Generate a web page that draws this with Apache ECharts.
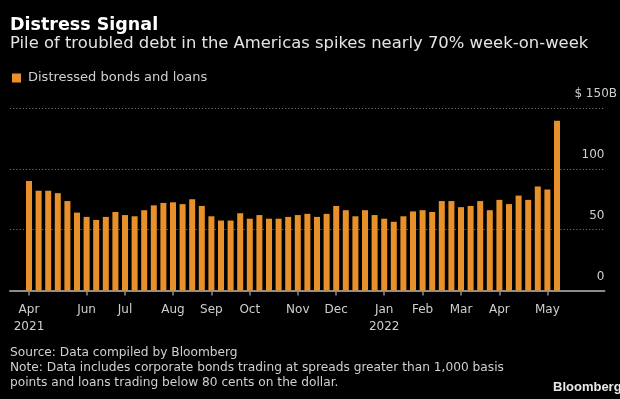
<!DOCTYPE html>
<html>
<head>
<meta charset="utf-8">
<script src="https://cdn.jsdelivr.net/npm/echarts@6/dist/echarts.min.js"></script>
<style>
  html, body { margin: 0; padding: 0; background: #000; }
  #chart { width: 620px; height: 399px; }
</style>
</head>
<body>
<div id="chart"></div>
<script>
// Weekly categories: only the first week of each labelled month carries text
const weekLabels = [
  'Apr\n2021', '', '', '', '', '',
  'Jun', '', '', '',
  'Jul', '', '', '', '',
  'Aug', '', '', '',
  'Sep', '', '', '',
  'Oct', '', '', '', '',
  'Nov', '', '', '',
  'Dec', '', '', '', '',
  'Jan\n2022', '', '', '',
  'Feb', '', '', '',
  'Mar', '', '', '',
  'Apr', '', '', '', '',
  'May', ''
];

// Distressed bonds and loans, $ billions
const distressed = [
  90, 82, 82, 80, 73.5, 64, 60.5, 58, 60.5, 64.5,
  62, 61, 66, 70, 72, 72.5, 71, 75, 69.5, 61,
  57.5, 57.5, 63.5, 59, 62, 59, 59, 60.5, 62, 63,
  60.5, 63, 69.5, 66, 61, 66, 62, 59, 56.5, 61,
  65, 66, 64.5, 73.5, 73.5, 68.5, 69.5, 73.5, 66, 74.5,
  71, 78, 74.5, 85.5, 83, 139.5
];

const yTicks = [0, 50, 100, 150];
const seriesName = 'Distressed bonds and loans';

const ORANGE = '#E8912B';
const FONT = 'DejaVu Sans';

const chart = echarts.init(document.getElementById('chart'), null, { renderer: 'canvas' });

chart.setOption({
  backgroundColor: '#000',
  animation: false,
  textStyle: { fontFamily: FONT },
  title: [
    {
      text: 'Distress Signal', left: 10, top: 15, padding: 0,
      textStyle: { color: '#fff', fontSize: 17.5, fontWeight: 'bold', fontFamily: FONT, lineHeight: 20 }
    },
    {
      text: 'Pile of troubled debt in the Americas spikes nearly 70% week-on-week',
      left: 10, top: 34, padding: 0,
      textStyle: { color: '#e4e4e4', fontSize: 16.4, fontWeight: 'normal', fontFamily: FONT, lineHeight: 20 }
    },
    {
      text: 'Source: Data compiled by Bloomberg\nNote: Data includes corporate bonds trading at spreads greater than 1,000 basis\npoints and loans trading below 80 cents on the dollar.',
      left: 10, top: 345, padding: 0,
      textStyle: { color: '#d0d0d0', fontSize: 12.2, fontWeight: 'normal', fontFamily: FONT, lineHeight: 15 }
    },
    {
      text: 'Bloomberg', left: 553, top: 380, padding: 0,
      textStyle: { color: '#e8e8e8', fontSize: 13, fontWeight: 'bold', fontFamily: 'Liberation Sans', lineHeight: 14 }
    }
  ],
  legend: {
    left: 12, top: 71, padding: 0,
    icon: 'rect', itemWidth: 9, itemHeight: 9, itemGap: 10,
    textStyle: { color: '#d0d0d0', fontSize: 13, fontFamily: FONT, lineHeight: 14, padding: [0, 0, 0, 2] },
    data: [seriesName]
  },
  grid: [
    // full-width frame: gridlines, value labels and the baseline
    { left: 10, right: 15, top: 108, height: 182.5 },
    // plotting band for the weekly bars
    { left: 24.2, width: 537.6, top: 108, height: 182.5 }
  ],
  xAxis: [
    {
      gridIndex: 0, type: 'value', min: 0, max: 1,
      axisLine: { show: true, onZero: false, lineStyle: { color: '#8c8c8c', width: 2 } },
      axisTick: { show: false }, axisLabel: { show: false }, splitLine: { show: false }
    },
    {
      gridIndex: 1, type: 'category', data: weekLabels, boundaryGap: true,
      axisLine: { show: false },
      axisTick: {
        show: true, alignWithLabel: true, length: 5,
        interval: (i, v) => v !== '',
        lineStyle: { color: '#8c8c8c', width: 1.5 }
      },
      axisLabel: {
        interval: 0, color: '#cfcfcf', fontSize: 12, fontFamily: FONT,
        lineHeight: 17, margin: 11
      },
      splitLine: { show: false }
    }
  ],
  yAxis: [
    {
      gridIndex: 0, type: 'value', position: 'right', min: 0, max: 150, interval: 50,
      axisLine: { show: false }, axisTick: { show: false },
      splitLine: { show: true, lineStyle: { color: '#6e6e6e', width: 1.2, type: [1.2, 2] } },
      axisLabel: {
        inside: true, margin: 0, color: '#cfcfcf', fontSize: 12, fontFamily: FONT,
        verticalAlign: 'bottom', lineHeight: 14, padding: [0, 0, 7, 0],
        // the top label carries the unit, hanging past the right edge of the frame
        formatter: v => (v === yTicks[yTicks.length - 1] ? '{t|$ ' + v + 'B}' : String(v)),
        rich: { t: { color: '#cfcfcf', fontSize: 12, fontFamily: FONT, width: 30, align: 'left', lineHeight: 14 } }
      }
    },
    {
      gridIndex: 1, type: 'value', min: 0, max: 150, show: false
    }
  ],
  series: [
    {
      name: seriesName, type: 'bar', xAxisIndex: 1, yAxisIndex: 1,
      data: distressed, barWidth: 6,
      itemStyle: { color: ORANGE }
    }
  ]
});
</script>
</body>
</html>
